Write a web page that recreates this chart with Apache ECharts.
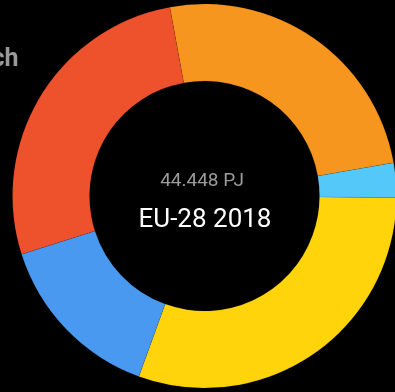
<!DOCTYPE html>
<html>
<head>
<meta charset="utf-8">
<style>
  html, body { margin: 0; padding: 0; background: #000; }
  #chart { width: 395px; height: 392px; }
</style>
<script src="https://cdn.jsdelivr.net/npm/echarts@6/dist/echarts.min.js"></script>
</head>
<body>
<div id="chart"></div>
<script>
// Final energy consumption by sector, EU-28 2018 (PJ)
const sectors = ['Industrie', 'Landwirtschaft', 'Verkehr', 'GHD', 'Haushalte'];
const valuesPJ = [11161, 1296, 13521, 6458, 12012];
const sectorColors = ['#f7961e', '#55c8fa', '#ffd40b', '#4a99f0', '#ee522c'];
const regionLabel = 'EU-28 2018';
const titleText = 'Endenergieverbrauch';

const total = valuesPJ.reduce((a, b) => a + b, 0);
const totalLabel = total.toString().replace(/\B(?=(\d{3})+(?!\d))/g, '.') + ' PJ';

const cx = 204.5, cy = 196;

const chart = echarts.init(document.getElementById('chart'));
chart.setOption({
  backgroundColor: '#000',
  animation: false,
  graphic: [
    {
      type: 'text',
      x: 18.5,
      y: 59.5,
      style: {
        text: titleText,
        fill: '#9a9a9a',
        font: 'bold 25px Roboto',
        textAlign: 'right',
        textVerticalAlign: 'middle'
      }
    },
    {
      type: 'text',
      x: 202,
      y: 181.5,
      style: {
        text: totalLabel,
        fill: '#9b9b9b',
        font: '19px Roboto',
        textAlign: 'center',
        textVerticalAlign: 'middle'
      }
    },
    {
      type: 'text',
      x: 205,
      y: 220.5,
      style: {
        text: regionLabel,
        fill: '#ffffff',
        font: '26px Roboto',
        textAlign: 'center',
        textVerticalAlign: 'middle'
      }
    }
  ],
  series: [{
    type: 'pie',
    center: [cx, cy],
    radius: [115, 192],
    startAngle: 100.4,
    clockwise: true,
    label: { show: false },
    labelLine: { show: false },
    emphasis: { disabled: true },
    itemStyle: { borderColor: 'rgba(0,0,0,0.12)', borderWidth: 0.6 },
    data: sectors.map((name, i) => ({
      name,
      value: valuesPJ[i],
      itemStyle: { color: sectorColors[i] }
    }))
  }]
});
</script>
</body>
</html>
